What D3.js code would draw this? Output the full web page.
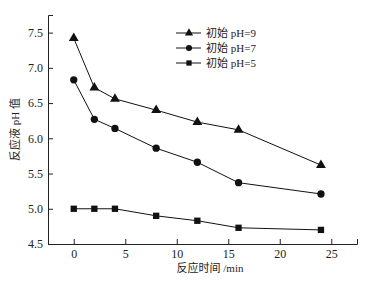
<!DOCTYPE html>
<html>
<head>
<meta charset="utf-8" />
<style>
    body { margin: 0; background: #fff; }
    text { font-family: "Liberation Serif", "Times New Roman", "Noto Sans CJK SC", serif; fill: #222; }
    .axis path, .axis line { stroke: #222; stroke-width: 1px; }
    .series path { fill: none; stroke: #111; stroke-width: 1px; }
</style>
</head>
<body>
<div id="container"></div>
<script src="https://cdn.jsdelivr.net/npm/d3@7/dist/d3.min.js"></script>
<script>
var times = [0, 2, 4, 8, 12, 16, 24]
var ph9 = [7.42, 6.72, 6.56, 6.40, 6.23, 6.12, 5.62]
var ph7 = [6.83, 6.27, 6.14, 5.86, 5.66, 5.37, 5.21]
var ph5 = [5.00, 5.00, 5.00, 4.90, 4.83, 4.73, 4.70]
var seriesNames = ["初始 pH=9", "初始 pH=7", "初始 pH=5"]
var xTicks = [0, 5, 10, 15, 20, 25]
var yTicks = [4.5, 5.0, 5.5, 6.0, 6.5, 7.0, 7.5]

var width = 366,
    height = 283,
    margin = { left: 48, top: 15, right: 9, bottom: 39 },
    g_width = width - margin.left - margin.right,
    g_height = height - margin.top - margin.bottom

var svg = d3.select("#container")
    .append("svg")
    .attr("width", width)
    .attr("height", height)

var g = svg.append("g")
    .attr("transform", "translate(" + margin.left + "," + margin.top + ")")

var scale_x = d3.scaleLinear().domain([-2.5, 27.5]).range([0, g_width])
var scale_y = d3.scaleLinear().domain([4.5, 7.75]).range([g_height, 0])

// axes with inward ticks
var x_axis = d3.axisBottom(scale_x).tickValues(xTicks).tickSizeInner(-5).tickSizeOuter(-5).tickPadding(5)
var y_axis = d3.axisLeft(scale_y).tickValues(yTicks).tickFormat(d3.format(".1f")).tickSizeInner(-5).tickSizeOuter(-5).tickPadding(5)

g.append("g").attr("class", "axis")
    .attr("transform", "translate(0," + g_height + ")")
    .call(x_axis)
    .selectAll("text").attr("font-size", "12px")

g.append("g").attr("class", "axis")
    .call(y_axis)
    .selectAll("text").attr("font-size", "12px")

g.selectAll(".axis text").attr("fill", "#333")

// axis titles
svg.append("text")
    .attr("x", 210).attr("y", 272)
    .attr("text-anchor", "middle")
    .attr("font-size", "11px")
    .text("反应时间 /min")

svg.append("text")
    .attr("transform", "translate(19," + (margin.top + g_height / 2) + ") rotate(-90)")
    .attr("text-anchor", "middle")
    .attr("font-size", "11px")
    .text("反应液 pH 值")

var line_generator = d3.line()
    .x(function(d, i) { return scale_x(times[i]) })
    .y(function(d) { return scale_y(d) })

var symbols = [d3.symbolTriangle, d3.symbolCircle, d3.symbolSquare]
var symSizes = [42, 42, 40]
var allData = [ph9, ph7, ph5]

allData.forEach(function(data, k) {
    var s = g.append("g").attr("class", "series")
    s.append("path").attr("d", line_generator(data))
    s.selectAll("path.mk")
        .data(data)
        .enter()
        .append("path")
        .attr("class", "mk")
        .attr("d", d3.symbol().type(symbols[k]).size(symSizes[k]))
        .attr("transform", function(d, i) {
            return "translate(" + scale_x(times[i]) + "," + scale_y(d) + ")"
        })
        .style("fill", "#111")
        .style("stroke", "none")
})

// legend
var legend = svg.append("g").attr("transform", "translate(176,33)")
seriesNames.forEach(function(name, k) {
    var row = legend.append("g").attr("transform", "translate(0," + (k * 15) + ")")
    row.append("line").attr("x1", 0).attr("x2", 25).attr("y1", 0).attr("y2", 0)
        .attr("stroke", "#111")
    row.append("path")
        .attr("d", d3.symbol().type(symbols[k]).size(symSizes[k] * 0.7))
        .attr("transform", "translate(13,0)")
        .attr("fill", "#111")
    row.append("text").attr("x", 30).attr("y", 4)
        .attr("font-size", "11px")
        .text(name)
})
</script>
</body>
</html>
